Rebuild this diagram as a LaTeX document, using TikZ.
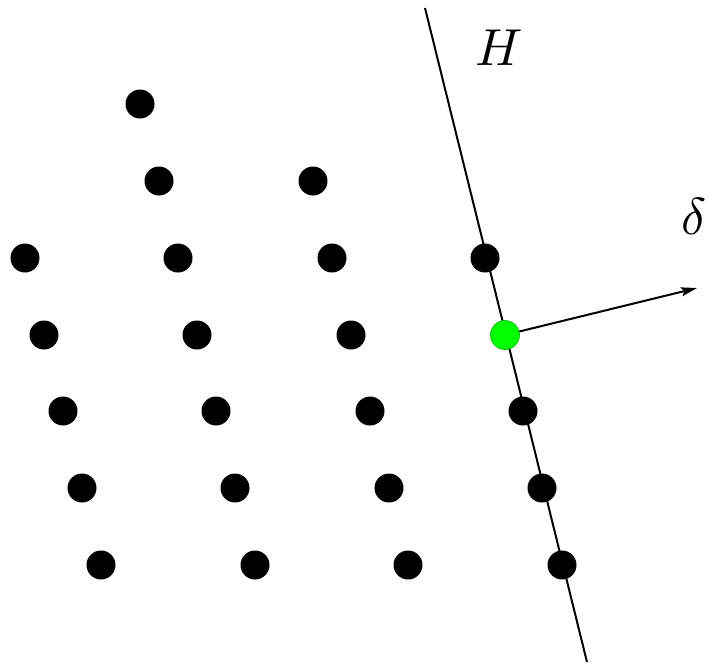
\documentclass[tikz,border=0pt]{standalone}
\usepackage{graphicx}
\usetikzlibrary{arrows.meta}
\begin{document}
\begin{tikzpicture}[x=1pt,y=-1pt,
  dot/.style={circle,fill=black,inner sep=0pt,minimum size=29pt},
  gdot/.style={circle,fill=green,draw=green!70!black,line width=0.6pt,inner sep=0pt,minimum size=29pt},
  lbl/.style={inner sep=0pt}]
\useasboundingbox (0,0) rectangle (707,665);
\coordinate (Ht) at (425,8);
\coordinate (Hb) at (587,662);
\draw[line width=2pt] (Ht) -- (Hb);
\node[dot] (d1) at (140,104) {};
\node[dot] (d2) at (159,181) {};
\node[dot] (d3) at (313,181) {};
\node[dot] (d4) at (25,258) {};
\node[dot] (d5) at (178,258) {};
\node[dot] (d6) at (332,258) {};
\node[dot] (d7) at (485,258) {};
\node[dot] (d8) at (44,335) {};
\node[dot] (d9) at (197,335) {};
\node[dot] (d10) at (351,335) {};
\node[dot] (d11) at (63,411) {};
\node[dot] (d12) at (216,411) {};
\node[dot] (d13) at (370,411) {};
\node[dot] (d14) at (523,411) {};
\node[dot] (d15) at (82,488) {};
\node[dot] (d16) at (235,488) {};
\node[dot] (d17) at (389,488) {};
\node[dot] (d18) at (542,488) {};
\node[dot] (d19) at (101,565) {};
\node[dot] (d20) at (255,565) {};
\node[dot] (d21) at (408,565) {};
\node[dot] (d22) at (562,565) {};
\node[gdot] (g) at (505,335) {};
\coordinate (tip) at (697,288);
\draw[line width=2pt,-{Stealth[length=16pt,width=9pt,inset=3pt]}] (g) -- (tip);
\node[lbl] (H) at (499,48) {\scalebox{5.2}{$H$}};
\node[lbl] (delta) at (694,216) {\scalebox{5.2}{$\delta$}};
\end{tikzpicture}
\end{document}
